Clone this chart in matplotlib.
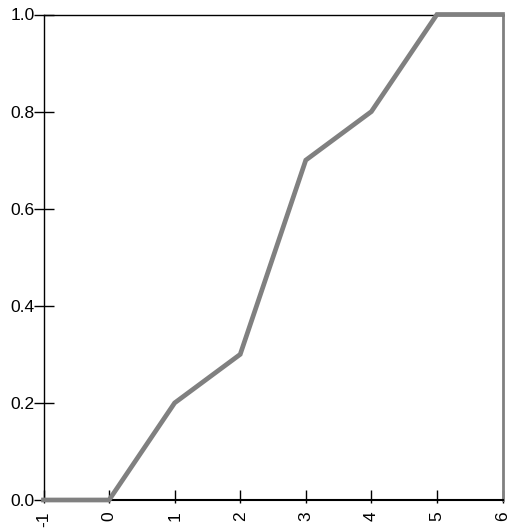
import matplotlib
matplotlib.use("Agg")
import matplotlib.pyplot as plt
from matplotlib.ticker import FixedLocator

x_vals = [-1, 0, 1, 2, 3, 4, 5, 6]
y_vals = [0.0, 0.0, 0.2, 0.3, 0.7, 0.8, 1.0, 1.0]
x_ticks = [-1, 0, 1, 2, 3, 4, 5, 6]
y_ticks = [0.0, 0.2, 0.4, 0.6, 0.8, 1.0]

plt.rcParams['font.family'] = ['Liberation Sans', 'DejaVu Sans']

fig = plt.figure(figsize=(5.15, 5.31), dpi=100)
ax = fig.add_axes([43.5/515, 1-500/531, (502.5-43.5)/515, (500-14.5)/531])

ax.plot(x_vals, y_vals, color='#808080', lw=3.4, solid_joinstyle='miter', clip_on=False, zorder=3)

ax.set_xlim(-1, 6)
ax.set_ylim(0, 1)
ax.set_xticks(x_ticks)
ax.set_xticklabels([str(v) for v in x_ticks], rotation=90, va='top')
ax.set_yticks(y_ticks)
ax.set_yticklabels([f"{v:.1f}" for v in y_ticks])

ax.tick_params(axis='y', direction='inout', length=14.4, width=1.0, color='black',
               labelsize=12.5, pad=-1)
ax.tick_params(axis='x', which='major', direction='in', length=7.2, width=1.0, color='black',
               labelsize=12.5, pad=8)
ax.xaxis.remove_overlapping_locs = False
ax.xaxis.set_minor_locator(FixedLocator(x_ticks))
ax.tick_params(axis='x', which='minor', direction='out', length=2.2, width=1.0, color='black')

for s in ['left', 'top']:
    ax.spines[s].set_linewidth(1.0)
    ax.spines[s].set_color('black')
ax.spines['bottom'].set_linewidth(1.5)
ax.spines['bottom'].set_color('black')
ax.spines['right'].set_linewidth(2.0)
ax.spines['right'].set_color('#808080')

fig.savefig('out.png', dpi=100)
